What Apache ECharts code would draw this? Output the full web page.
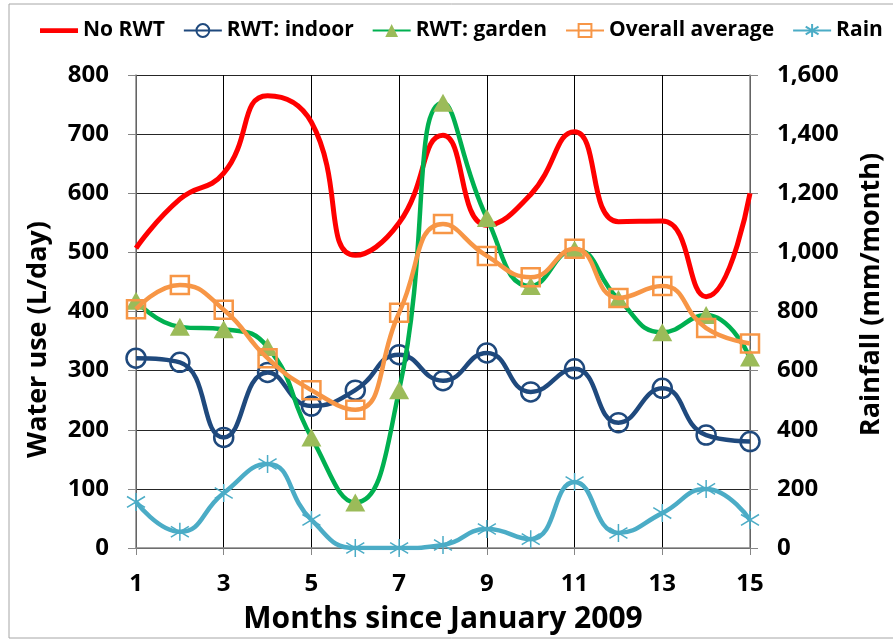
<!DOCTYPE html>
<html>
<head>
<meta charset="utf-8">
<script src="https://cdn.jsdelivr.net/npm/echarts@6/dist/echarts.min.js"></script>
<style>
  html, body { margin: 0; padding: 0; background: #fff; }
  #chart { width: 893px; height: 642px; }
</style>
</head>
<body>
<div id="chart"></div>
<script>
const months = ['1', '2', '3', '4', '5', '6', '7', '8', '9', '10', '11', '12', '13', '14', '15'];
const noRwt = [507, 590, 634, 765, 720, 495, 550, 698, 546, 598, 704, 552, 553, 425, 600];
const rwtIndoor = [321, 314, 187, 297, 240, 267, 327, 283, 330, 264, 303, 212, 270, 191, 180];
const rwtGarden = [418, 374, 370, 340, 187, 77, 267, 753, 558, 443, 505, 421, 365, 394, 322];
const overallAvg = [404, 445, 403, 321, 267, 234, 398, 548, 494, 458, 506, 423, 443, 372, 346];
const rain = [156, 55, 186, 284, 95, 0, 0, 10, 64, 30, 223, 51, 118, 200, 95];

const font = '"Open Sans", sans-serif';
const star = 'path://M0,-10L0,10M-9,-6L9,6M-9,6L9,-6';
const titleStyle = { fontFamily: font, fontWeight: 'bold', fontSize: 30, color: '#000' };
const sideTitle = { fontFamily: font, fontWeight: 'bold', fontSize: 27, color: '#000' };

const chart = echarts.init(document.getElementById('chart'));

chart.setOption({
  animation: false,
  textStyle: { fontFamily: font },
  graphic: [{
    type: 'rect',
    shape: { x: 9, y: 4, width: 900, height: 634 },
    style: { fill: 'none', stroke: '#a6a6a6', lineWidth: 1 }
  }],
  legend: {
    top: 20,
    left: 40,
    right: 0,
    padding: 0,
    itemWidth: 38,
    itemHeight: 16,
    itemGap: 18,
    textStyle: { fontFamily: font, fontWeight: 'bold', fontSize: 21, color: '#000' },
    data: [
      { name: 'No RWT', icon: 'path://M0,0L40,0L40,5L0,5Z' },
      'RWT: indoor', 'RWT: garden', 'Overall average', 'Rain'
    ]
  },
  grid: { left: 136, right: 141, top: 75, bottom: 94 },
  xAxis: {
    type: 'category',
    data: months,
    boundaryGap: false,
    name: 'Months since January 2009',
    nameLocation: 'middle',
    nameGap: 56,
    nameTextStyle: titleStyle,
    axisLine: { lineStyle: { color: '#868686', width: 1.5 } },
    axisTick: { interval: 1, length: 7, lineStyle: { color: '#868686' } },
    axisLabel: { interval: 1, margin: 24, fontWeight: 'bold', fontSize: 24, color: '#000' },
    splitLine: { show: true, interval: 1, lineStyle: { color: '#000', width: 1 } }
  },
  yAxis: [{
    type: 'value',
    min: 0, max: 800, interval: 100,
    name: 'Water use (L/day)',
    nameLocation: 'middle',
    nameGap: 84,
    nameTextStyle: Object.assign({ padding: [0, 56, 0, 0] }, sideTitle),
    axisLine: { show: true, lineStyle: { color: '#868686', width: 1.5 } },
    axisTick: { show: true, length: 8, lineStyle: { color: '#868686' } },
    axisLabel: { margin: 27, fontWeight: 'bold', fontSize: 24, color: '#000' },
    splitLine: { show: true, lineStyle: { color: '#262626', width: 1.2 } }
  }, {
    type: 'value',
    min: 0, max: 1600, interval: 200,
    name: 'Rainfall (mm/month)',
    nameLocation: 'middle',
    nameGap: 108,
    nameRotate: 90,
    nameTextStyle: Object.assign({ padding: [0, 0, 0, 34] }, sideTitle),
    axisLine: { show: true, lineStyle: { color: '#868686', width: 1.5 } },
    axisTick: { show: true, length: 8, lineStyle: { color: '#868686' } },
    axisLabel: {
      margin: 27, fontWeight: 'bold', fontSize: 24, color: '#000',
      formatter: v => v.toLocaleString('en-US')
    },
    splitLine: { show: false }
  }],
  series: [{
    name: 'No RWT',
    type: 'line',
    data: noRwt,
    smooth: 0.5,
    symbol: 'none',
    lineStyle: { color: '#ff0000', width: 5 },
    itemStyle: { color: '#ff0000' },
    z: 3
  }, {
    name: 'RWT: indoor',
    type: 'line',
    data: rwtIndoor,
    smooth: 0.5,
    symbol: 'circle',
    symbolSize: 19,
    lineStyle: { color: '#1f497d', width: 4.5 },
    itemStyle: { color: 'rgba(255,255,255,0)', borderColor: '#1f497d', borderWidth: 2.5 },
    z: 4
  }, {
    name: 'RWT: garden',
    type: 'line',
    data: rwtGarden,
    smooth: 0.5,
    symbol: 'triangle',
    symbolSize: [20, 18],
    lineStyle: { color: '#00b050', width: 4.5 },
    itemStyle: { color: '#9bbb59' },
    z: 5
  }, {
    name: 'Overall average',
    type: 'line',
    data: overallAvg,
    smooth: 0.5,
    symbol: 'rect',
    symbolSize: 18,
    lineStyle: { color: '#f79646', width: 4.5 },
    itemStyle: { color: 'rgba(255,255,255,0)', borderColor: '#f79646', borderWidth: 2.5 },
    z: 6
  }, {
    name: 'Rain',
    type: 'line',
    yAxisIndex: 1,
    data: rain,
    smooth: 0.5,
    symbol: star,
    symbolSize: 18,
    lineStyle: { color: '#4bacc6', width: 4.5 },
    itemStyle: { color: '#4bacc6', borderColor: '#4bacc6', borderWidth: 1.5 },
    z: 4
  }]
});
</script>
</body>
</html>
